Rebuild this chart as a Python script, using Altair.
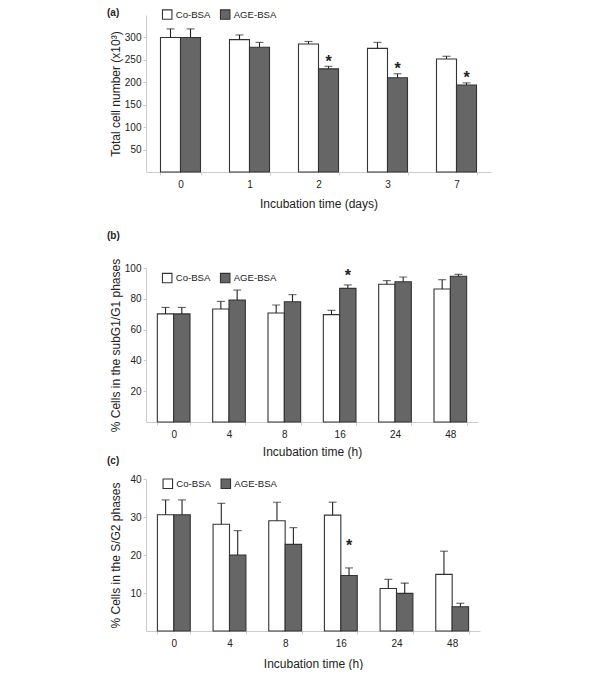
import altair as alt
import pandas as pd

FONT = "Liberation Sans, Arial, Helvetica, sans-serif"
TXT = "#222222"

series = ["Co-BSA", "AGE-BSA"]
fill_colors = ["#ffffff", "#666666"]

# (a) total cell number (x10^3)
a_times = ["0", "1", "2", "3", "7"]
a_co = [300, 295, 285.5, 275.7, 252]
a_co_sd = [19, 10.5, 5.5, 13.3, 6]
a_age = [300, 278, 230, 210, 194]
a_age_sd = [19, 11, 5.6, 9, 4.7]
a_star = [None, None, 254, 238, 219]

# (b) % cells in subG1/G1
h_times = ["0", "4", "8", "16", "24", "48"]
b_co = [70.2, 73.4, 70.8, 69.7, 89.4, 86.4]
b_co_sd = [4.2, 4.9, 5.2, 2.8, 2.4, 6.0]
b_age = [70.2, 79.2, 78.1, 86.8, 91.1, 94.6]
b_age_sd = [4.2, 6.5, 4.6, 2.2, 3.1, 1.3]
b_star = [None, None, None, 97.1, None, None]

# (c) % cells in S/G2
c_co = [30.6, 28.1, 29.0, 30.5, 11.2, 14.9]
c_co_sd = [3.9, 5.5, 4.9, 3.4, 2.4, 6.1]
c_age = [30.6, 20.0, 22.8, 14.6, 9.9, 6.4]
c_age_sd = [3.9, 6.4, 4.4, 2.0, 2.7, 0.9]
c_star = [None, None, None, 23.4, None, None]


def make_df(times, co, co_sd, age, age_sd):
    rows = []
    for name, vals, sds in (("Co-BSA", co, co_sd), ("AGE-BSA", age, age_sd)):
        for t, v, s in zip(times, vals, sds):
            rows.append({"time": t, "series": name, "value": v, "top": v + s})
    return pd.DataFrame(rows)


def make_stars(times, stars):
    return pd.DataFrame([{"time": t, "series": "AGE-BSA", "star": s}
                         for t, s in zip(times, stars) if s is not None])


def panel(df, sdf, times, ymax, yticks, width, height, ytitle, xtitle,
          xtitle_y, label, label_y, leg_x, leg_y, pad_inner, ghost_y=None):
    x = alt.X("time:N", sort=times, title=xtitle,
              scale=alt.Scale(paddingInner=pad_inner, paddingOuter=pad_inner / 2),
              axis=alt.Axis(labelAngle=0, tickBand="extent", titleY=xtitle_y,
                            titleBaseline="middle"))
    xo = alt.XOffset("series:N", sort=series,
                     scale=alt.Scale(domain=series, paddingInner=0, paddingOuter=0))
    yscale = alt.Scale(domain=[0, ymax], nice=False, zero=True)
    yaxis = alt.Axis(values=yticks, titleX=-31, titleBaseline="middle")
    base = alt.Chart(df)
    bars = base.mark_bar(stroke="#333333", strokeWidth=1.1).encode(
        x=x, xOffset=xo,
        y=alt.Y("value:Q", title=ytitle, scale=yscale, axis=yaxis),
        fill=alt.Fill("series:N", sort=series,
                      scale=alt.Scale(domain=series, range=fill_colors),
                      legend=alt.Legend(orient="none", legendX=leg_x, legendY=leg_y,
                                        direction="horizontal", title=None,
                                        symbolType="square", symbolSize=90,
                                        symbolStrokeColor="#333333",
                                        symbolStrokeWidth=1.1,
                                        labelFontSize=9.6, labelOffset=3,
                                        columnPadding=7, padding=0,
                                        labelColor=TXT, labelFont=FONT)),
    )
    err = base.mark_rule(color=TXT, strokeWidth=1.1).encode(
        x=x, xOffset=xo,
        y=alt.Y("value:Q", title=ytitle, scale=yscale, axis=yaxis),
        y2="top:Q",
    )
    cap = base.mark_tick(color=TXT, thickness=1.1, size=8).encode(
        x=x, xOffset=xo,
        y=alt.Y("top:Q", title=ytitle, scale=yscale, axis=yaxis),
    )
    stars = alt.Chart(sdf).mark_text(text="*", fontSize=16, fontWeight="bold",
                                     color=TXT, dy=9, baseline="alphabetic",
                                     font=FONT).encode(
        x=x, xOffset=xo,
        y=alt.Y("star:Q", title=ytitle, scale=yscale, axis=yaxis),
    )
    lab = alt.Chart(pd.DataFrame({"t": [label]})).mark_text(
        align="left", baseline="middle", fontSize=10, fontWeight="bold",
        color=TXT, font=FONT).encode(
        x=alt.value(-39), y=alt.value(label_y), text="t:N")
    layers = [bars, err, cap, stars, lab]
    if ghost_y is not None:
        ghost = alt.Chart(pd.DataFrame({"t": [label]})).mark_text(
            align="left", baseline="middle", fontSize=10, opacity=0,
            font=FONT).encode(x=alt.value(-39), y=alt.value(ghost_y), text="t:N")
        layers.append(ghost)
    return alt.layer(*layers).properties(width=width, height=height)


pa = panel(make_df(a_times, a_co, a_co_sd, a_age, a_age_sd), make_stars(a_times, a_star),
           a_times, 350, [50, 100, 150, 200, 250, 300], 345, 157,
           "Total cell number (x10³)", "Incubation time (days)", 31.5,
           "(a)", -1.8, 15.7, -6.2, 0.42)
pb = panel(make_df(h_times, b_co, b_co_sd, b_age, b_age_sd), make_stars(h_times, b_star),
           h_times, 100, [20, 40, 60, 80, 100], 332, 154,
           "% Cells in the subG1/G1 phases", "Incubation time (h)", 29,
           "(b)", -31.6, 15.7, 4.3, 0.41, ghost_y=-53.3)
pc = panel(make_df(h_times, c_co, c_co_sd, c_age, c_age_sd), make_stars(h_times, c_star),
           h_times, 40, [10, 20, 30, 40], 334, 152,
           "% Cells in the S/G2 phases", "Incubation time (h)", 32.7,
           "(c)", -17.6, 16.3, -1, 0.41)

chart = alt.vconcat(pa, pb, pc, spacing=-1).resolve_scale(
    x="independent", y="independent", xOffset="independent"
).resolve_legend(fill="independent").properties(
    padding={"left": 99, "top": 0, "right": 5, "bottom": 0}
).configure_view(stroke=None).configure_axis(
    domainColor="#cccccc", tickColor="#cccccc", tickSize=3, grid=False,
    labelFont=FONT, titleFont=FONT, labelFontSize=10, labelColor=TXT,
    titleFontSize=12, titleFontWeight="normal", titleColor=TXT,
).configure_axisX(labelPadding=4).configure_axisY(labelPadding=2)

chart.save("out.html", embed_options={"renderer": "svg", "actions": False})
